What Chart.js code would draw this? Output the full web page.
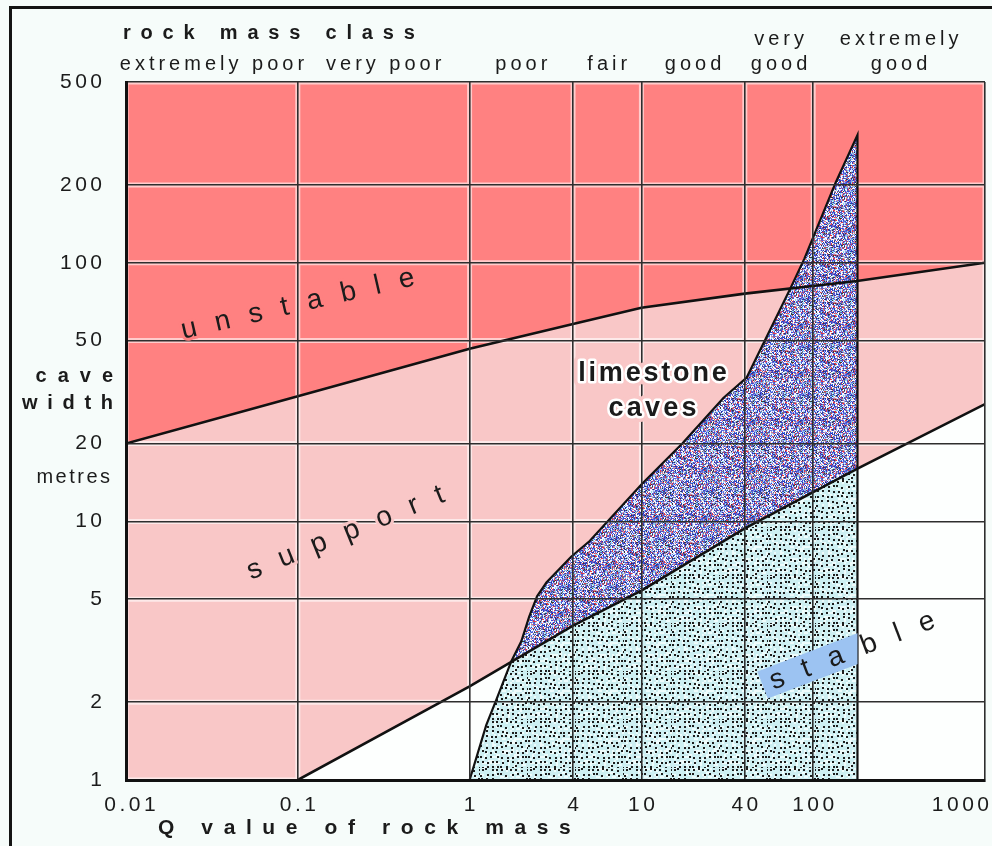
<!DOCTYPE html>
<html><head><meta charset="utf-8">
<script src="https://cdn.jsdelivr.net/npm/chart.js@4.4.1/dist/chart.umd.min.js"></script>
<style>html,body{margin:0;padding:0;background:#f6fcfa;}canvas{display:block;}</style>
</head><body>
<canvas id="c" width="992" height="846"></canvas>
<script>
// ---------- data ----------
const qTicks = [0.01, 0.1, 1, 4, 10, 40, 100, 1000];
const qTickLabels = ['0.01', '0.1', '1', '4', '10', '40', '100', '1000'];
const widthTicks = [1, 2, 5, 10, 20, 50, 100, 200, 500];
const widthTickLabels = ['1', '2', '5', '10', '20', '50', '100', '200', '500'];
const classNames = [['extremely poor'], ['very poor'], ['poor'], ['fair'], ['good'], ['very', 'good'], ['extremely', 'good']];
const classBounds = [0.01, 0.1, 1, 4, 10, 40, 100, 1000];

// boundary unstable / support
const unstableQ = [0.01, 0.1, 1, 4, 10, 40, 180, 1000];
const unstableW = [20, 30.5, 46.5, 58, 67, 76, 85, 100];
// boundary support / stable
const stableQ = [0.1, 1, 4, 10, 40, 181, 1000];
const stableW = [1, 2.3, 3.95, 5.4, 9.4, 16, 28.4];
// envelope of limestone caves
const cavesQ = [1, 1.25, 1.43, 1.75, 2.0, 2.22, 2.47, 2.8, 3.9, 5, 10, 17.3, 30, 41, 53, 74, 89, 135, 181, 181];
const cavesW = [1, 1.63, 2.04, 2.88, 3.44, 4.27, 5.13, 5.8, 7.3, 8.4, 13.9, 20, 30, 36, 51, 80, 104, 204, 312, 1];
// part of the caves envelope lying in the stable zone
const stableCavesQ = [1, 1.25, 1.43, 1.76, 4, 10, 40, 181, 181];
const stableCavesW = [1, 1.63, 2.04, 2.89, 3.95, 5.4, 9.4, 16, 1];

const qMin = 0.01, qMax = 1000, wMin = 1, wMax = 500;

// region label anchors (Q, width)
const labelUnstable = {q: 0.1, w: 69};
const labelSupport = {q: 0.19, w: 9};
const labelStable = {q: 169, w: 3.15};
const labelCaves = {q: 11.6, w1: 37.2, w2: 27.4};

// ---------- build ----------
const pts = (qs, ws) => qs.map((q, i) => ({x: q, y: ws[i]}));
const redPoly = [...pts(unstableQ, unstableW), {x: qMax, y: wMax}, {x: qMin, y: wMax}];
const pinkPoly = [...pts(unstableQ, unstableW), ...pts(stableQ, stableW).reverse(), {x: qMin, y: wMin}];
const darkPoly = pts(cavesQ, cavesW);
const lightPoly = pts(stableCavesQ, stableCavesW);

const canvas = document.getElementById('c');
const mainCtx = canvas.getContext('2d');

function hash(i, j, s) {
  let n = Math.imul(i, 374761393) + Math.imul(j, 668265263) + Math.imul(s, 2246822519);
  n = Math.imul(n ^ (n >>> 13), 1274126177);
  n = n ^ (n >>> 16);
  return (n >>> 0) / 4294967296;
}
function makePattern(size, painter) {
  const c = document.createElement('canvas');
  c.width = c.height = size;
  painter(c.getContext('2d'), size);
  return mainCtx.createPattern(c, 'repeat');
}
const darkPalette = ['#ffffff', '#ffffff', '#f2f4ff', '#dfe8ff', '#a8c4f6', '#86d8ee',
  '#3848d8', '#3848d8', '#2636a8', '#5a6ae0', '#e03848', '#d8788c', '#34343e', '#6a5cc0', '#6a7088', '#9aa4dc'];
const darkPat = makePattern(48, (g, n) => {
  for (let i = 0; i < n; i++) for (let j = 0; j < n; j++) {
    g.fillStyle = darkPalette[Math.floor(hash(i, j, 1) * darkPalette.length)];
    g.fillRect(i, j, 1, 1);
  }
});
const lightPat = makePattern(48, (g, n) => {
  g.fillStyle = '#cdeff2'; g.fillRect(0, 0, n, n);
  for (let i = 0; i < n; i += 2) for (let j = 0; j < n; j += 2) {
    if (hash(i, j, 7) < 0.25) { g.fillStyle = '#eefcfc'; g.fillRect(i, j, 2, 2); }
  }
  g.fillStyle = '#1e1e1e';
  for (let i = 0; i < n; i += 5) for (let j = 0; j < n; j += 5) {
    const a = i + Math.floor(hash(i, j, 3) * 3), b = j + Math.floor(hash(i, j, 5) * 3);
    g.fillRect(a % n, b % n, 2, 2);
  }
});

const DARK = 4;
function polyPath(ctx, meta) {
  meta.data.forEach((p, i) => i ? ctx.lineTo(p.x, p.y) : ctx.moveTo(p.x, p.y));
  ctx.closePath();
}
function drawHalos(chart) {
  const {ctx, chartArea: a, scales: {x, y}} = chart;
  ctx.save();
  ctx.beginPath();
  ctx.rect(a.left, a.top, a.right - a.left, a.bottom - a.top);
  polyPath(ctx, chart.getDatasetMeta(DARK));
  ctx.clip('evenodd');
  ctx.strokeStyle = 'rgba(255,255,255,0.6)';
  ctx.lineWidth = 5;
  ctx.beginPath();
  qTicks.forEach(q => { const p = x.getPixelForValue(q); ctx.moveTo(p, a.top); ctx.lineTo(p, a.bottom); });
  widthTicks.forEach(w => { const p = y.getPixelForValue(w); ctx.moveTo(a.left, p); ctx.lineTo(a.right, p); });
  ctx.stroke();
  ctx.restore();
}
function spaced(ctx, text, x, y, spacing, align, halos) {
  const chars = [...text];
  const ws = chars.map(ch => ctx.measureText(ch).width);
  const total = ws.reduce((s, w) => s + w, 0) + spacing * (chars.length - 1);
  const start = align === 'center' ? x - total / 2 : align === 'right' ? x - total : x;
  ctx.textAlign = 'left';
  (halos || []).forEach(([col, lw]) => {
    ctx.save(); ctx.strokeStyle = col; ctx.lineWidth = lw; ctx.lineJoin = 'round';
    let cx = start;
    chars.forEach((ch, i) => { ctx.strokeText(ch, cx, y); cx += ws[i] + spacing; });
    ctx.restore();
  });
  let cx = start;
  chars.forEach((ch, i) => { ctx.fillText(ch, cx, y); cx += ws[i] + spacing; });
  return total;
}
const FONT = '"Liberation Sans", Arial, Helvetica, sans-serif';
const INK = '#1b1b1b';

const decor = {
  id: 'decor',
  beforeDraw(chart) {
    const {ctx, chartArea: a} = chart;
    ctx.save();
    ctx.fillStyle = '#f6fcfa';
    ctx.fillRect(0, 0, chart.width, chart.height);
    ctx.fillStyle = '#fdfffe';
    ctx.fillRect(a.left, a.top, a.right - a.left, a.bottom - a.top);
    ctx.fillStyle = '#141414';
    ctx.fillRect(9, 6, chart.width - 9, 3);
    ctx.fillRect(9, 6, 3, chart.height - 6);
    ctx.restore();
  },
  beforeDatasetDraw(chart, args) {
    if (chart.data.datasets[args.index].label === 'caves outline') drawHalos(chart);
  },
  afterDraw(chart) {
    const {ctx, chartArea: a, scales: {x, y}} = chart;
    ctx.save();
    ctx.fillStyle = INK;
    ctx.textBaseline = 'middle';

    // rock mass class header
    ctx.font = 'bold 20px ' + FONT;
    spaced(ctx, 'rock mass class', 123, 33, 9.8, 'left');
    ctx.font = '20px ' + FONT;
    classNames.forEach((lines, k) => {
      const cx = x.getPixelForValue(Math.sqrt(classBounds[k] * classBounds[k + 1]));
      const ys = lines.length === 2 ? [39, 64] : [64];
      lines.forEach((t, i) => spaced(ctx, t, cx, ys[i], 4, 'center'));
    });

    // y tick labels
    ctx.font = '21px ' + FONT;
    widthTicks.forEach((w, i) => spaced(ctx, widthTickLabels[i], a.left - 24, y.getPixelForValue(w), 3.5, 'right'));
    // x tick labels
    qTicks.forEach((q, i) => {
      const px = x.getPixelForValue(q);
      if (i === qTicks.length - 1) spaced(ctx, qTickLabels[i], a.right + 4, 805, 3.5, 'right');
      else spaced(ctx, qTickLabels[i], px + (i === 0 ? 4 : 0), 805, 3.5, 'center');
    });

    // axis titles
    ctx.font = 'bold 20px ' + FONT;
    spaced(ctx, 'cave', 113, 376, 11, 'right');
    spaced(ctx, 'width', 113, 403, 9.7, 'right');
    ctx.font = '20px ' + FONT;
    spaced(ctx, 'metres', 110, 477, 2.5, 'right');
    ctx.font = 'bold 21px ' + FONT;
    spaced(ctx, 'Q value of rock mass', 158, 828, 10.6, 'left');

    // rotated region labels
    ctx.font = '28px ' + FONT;
    const rot = (lab, ang, spacing, halo) => {
      ctx.save();
      ctx.translate(x.getPixelForValue(lab.q), y.getPixelForValue(lab.w));
      ctx.rotate(ang * Math.PI / 180);
      ctx.fillStyle = INK;
      spaced(ctx, lab.text, 0, 0, spacing, 'center', halo);
      ctx.restore();
    };
    rot({...labelUnstable, text: 'unstable'}, -13, 19, [['#ff8181', 6]]);
    rot({...labelSupport, text: 'support'}, -22, 19.5, [['#f9c7c7', 6]]);
    // blue box behind "stable", clipped to the caves envelope
    ctx.save();
    ctx.beginPath();
    polyPath(ctx, chart.getDatasetMeta(DARK));
    ctx.clip();
    ctx.translate(x.getPixelForValue(labelStable.q), y.getPixelForValue(labelStable.w));
    ctx.rotate(-21 * Math.PI / 180);
    ctx.fillStyle = '#9cc3f2';
    ctx.fillRect(-96, -15, 140, 29);
    ctx.restore();
    rot({...labelStable, text: 'stable'}, -21, 20);

    // limestone caves
    ctx.font = 'bold 27px ' + FONT;
    const lx = x.getPixelForValue(labelCaves.q);
    const halo = [['#f9c7c7', 12], ['#ffffff', 5]];
    spaced(ctx, 'limestone', lx, y.getPixelForValue(labelCaves.w1), 2.8, 'center', halo);
    spaced(ctx, 'caves', lx, y.getPixelForValue(labelCaves.w2), 3.2, 'center', halo);
    ctx.restore();
  }
};

const ds = (label, data, extra) => Object.assign({
  label, data, showLine: true, pointRadius: 0, pointHoverRadius: 0,
  borderWidth: 0, borderColor: 'transparent', fill: false, tension: 0
}, extra);

const scaleBase = (min, max, ticks, fitProp, fitVal) => ({
  type: 'logarithmic', min, max,
  afterBuildTicks: s => { s.ticks = ticks.map(v => ({value: v})); },
  afterFit: s => { s[fitProp] = fitVal; },
  ticks: {display: false},
  grid: {color: '#2e2e2e', lineWidth: 1.6, drawTicks: false, z: 1},
  border: {color: '#111111', width: 3, z: 2}
});

new Chart(canvas, {
  type: 'scatter',
  data: {
    datasets: [
      ds('unstable limit', pts(unstableQ, unstableW), {borderColor: '#111', borderWidth: 2.6, order: 0}),
      ds('stable limit', pts(stableQ, stableW), {borderColor: '#111', borderWidth: 2.6, order: 1}),
      ds('caves outline', pts(cavesQ, cavesW), {borderColor: '#111', borderWidth: 2.2, order: 2}),
      ds('stable caves', lightPoly, {fill: 'shape', backgroundColor: lightPat, order: 3}),
      ds('limestone caves', darkPoly, {fill: 'shape', backgroundColor: darkPat, order: 4}),
      ds('support', pinkPoly, {fill: 'shape', backgroundColor: '#f9c7c7', order: 5}),
      ds('unstable', redPoly, {fill: 'shape', backgroundColor: '#ff8181', order: 6})
    ]
  },
  options: {
    responsive: false,
    animation: false,
    events: [],
    layout: {padding: {top: 82, right: 7, left: 0, bottom: 0}},
    plugins: {legend: {display: false}, tooltip: {enabled: false}, title: {display: false}},
    scales: {
      x: scaleBase(qMin, qMax, qTicks, 'height', 66),
      y: scaleBase(wMin, wMax, widthTicks, 'width', 126)
    }
  },
  plugins: [decor]
});
</script>
</body></html>
